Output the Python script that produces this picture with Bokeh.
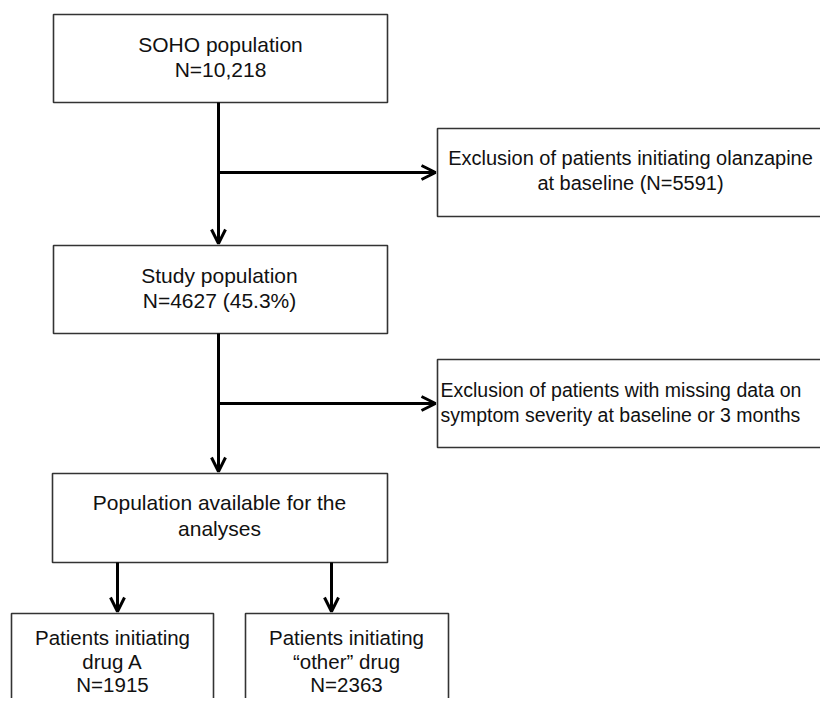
from bokeh.plotting import figure
from bokeh.models import Range1d, Arrow, OpenHead, ColumnDataSource
from bokeh.core.properties import value
from bokeh.embed import file_html
from bokeh.resources import INLINE

# ---------------- content of the flowchart ----------------
node_names = ["soho", "excl1", "study", "excl2", "avail", "drugA", "other"]
node_lines = [
    ["SOHO population", "N=10,218"],
    ["Exclusion of patients initiating olanzapine", "at baseline (N=5591)"],
    ["Study population", "N=4627 (45.3%)"],
    ["Exclusion of patients with missing data on", "symptom severity at baseline or 3 months"],
    ["Population available for the", "analyses"],
    ["Patients initiating", "drug A", "N=1915"],
    ["Patients initiating", "\u201cother\u201d drug", "N=2363"],
]
# flow: (source, target, kind)  kind: "down" = vertical arrow, "side" = branch to exclusion box
edges = [
    ("soho", "study", "down"),
    ("soho", "excl1", "side"),
    ("study", "avail", "down"),
    ("study", "excl2", "side"),
    ("avail", "drugA", "down"),
    ("avail", "other", "down"),
]

# ---------------- layout (picture pixels, y downwards) ----------------
layout = {
    #        left  right  top  bottom  text_x  align     baseline  step  arrow_x  font
    "soho":  (53,  387,   14,  102,    220,    "center", 44,       25,   218,     "21px"),
    "excl1": (437, 842,   128, 216,    630,    "center", 157,      25,   None,    "20px"),
    "study": (53,  387,   245, 333,    219,    "center", 275,      25,   218,     "21px"),
    "excl2": (437, 842,   359, 447,    440,    "left",   389,      25,   None,    "19.5px"),
    "avail": (52,  387,   473, 562,    219,    "center", 502,      26,   218,     "21px"),
    "drugA": (11,  213,   613, 740,    112,    "center", 637,      23.5, 117,     "20.5px"),
    "other": (245, 448,   613, 740,    346,    "center", 637,      23.5, 331,     "20.5px"),
}

p = figure(width=820, height=698, output_backend="svg", toolbar_location=None,
           x_range=Range1d(0, 820), y_range=Range1d(698, 0),
           min_border=0, x_axis_location=None, y_axis_location=None)
p.grid.visible = False
p.outline_line_color = None
p.background_fill_color = "white"
p.border_fill_color = "white"

# boxes
box_src = ColumnDataSource(dict(
    left=[layout[n][0] for n in node_names],
    right=[layout[n][1] for n in node_names],
    top=[layout[n][2] for n in node_names],
    bottom=[layout[n][3] for n in node_names],
))
p.quad(left="left", right="right", top="top", bottom="bottom", source=box_src,
       fill_color="white", line_color="#333333", line_width=1.6)

# texts
tx, ty, tt, ta, tf = [], [], [], [], []
for name, lines in zip(node_names, node_lines):
    l, r, t, b, x, align, base, step, _, fs = layout[name]
    for i, s in enumerate(lines):
        tx.append(x)
        ty.append(base + i * step)
        tt.append(s)
        ta.append(align)
        tf.append(fs)
txt_src = ColumnDataSource(dict(x=tx, y=ty, text=tt, align=ta, fs=tf))
p.text(x="x", y="y", text="text", text_align="align", text_font_size="fs",
       source=txt_src, text_baseline="alphabetic",
       text_font=value("Liberation Sans"), text_color="#111111")

# arrows
for src, dst, kind in edges:
    s = layout[src]
    d = layout[dst]
    if kind == "down":
        x0 = x1 = d[8]
        y0 = s[3]
        y1 = d[2] - 2
    else:
        x0 = s[8]
        y0 = y1 = (d[2] + d[3]) / 2
        x1 = d[0] - 2
    p.add_layout(Arrow(end=OpenHead(size=14, line_width=3, line_color="black"),
                       x_start=x0, y_start=y0, x_end=x1, y_end=y1,
                       line_width=3, line_color="black"))

open("out.html", "w").write(file_html(p, INLINE))
